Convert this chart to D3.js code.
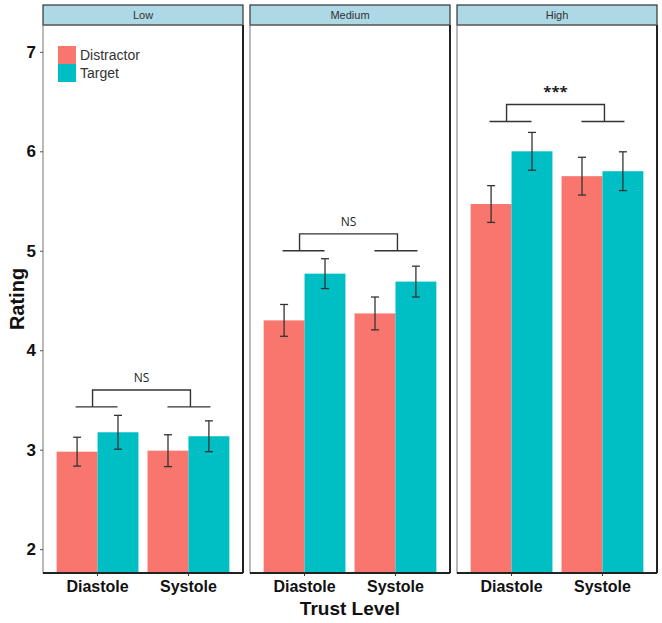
<!DOCTYPE html>
<html>
<head>
<meta charset="utf-8">
<script src="https://cdn.jsdelivr.net/npm/d3@7"></script>
<style>
  body { margin: 0; background: #fff; }
  svg { display: block; font-family: "Liberation Sans", Arial, sans-serif; }
</style>
</head>
<body>
<svg id="chart" width="662" height="623"></svg>
<script>
'use strict';

// data, order per level: Diastole, Systole
const levels = ['Low', 'Medium', 'High'];
const phases = ['Diastole', 'Systole'];
const groups = ['Distractor', 'Target'];

const distractorMean = [2.98, 2.99, 4.30, 4.37, 5.47, 5.75];
const targetMean = [3.175, 3.135, 4.77, 4.69, 6.00, 5.80];
const distractorSE = [0.145, 0.16, 0.16, 0.165, 0.185, 0.19];
const targetSE = [0.17, 0.155, 0.15, 0.155, 0.19, 0.195];

const bracketLow = [3.43, 5.00, 6.30];
const sigLabels = ['NS', 'NS', '***'];
const yTicks = [2, 3, 4, 5, 6, 7];

const colors = { Distractor: '#F8766D', Target: '#00BFC4' };

const svg = d3.select('#chart');

const panelW = 200;
const panelLeft = [43, 250, 457];
const stripTop = 5, stripH = 20;
const plotTop = stripTop + stripH, plotBottom = 573;

const y = d3.scaleLinear().domain([1.76, 7.27]).range([plotBottom, plotTop]);
const x = d3.scaleBand().domain(phases).range([0, panelW])
    .paddingInner(0.1).paddingOuter(0.15);
const xg = d3.scaleBand().domain(groups).range([0, x.bandwidth()]);

svg.append('defs').selectAll('clipPath')
    .data(levels)
    .enter()
    .append('clipPath')
    .attr('id', function(d, i) {return 'clip' + i;})
    .append('rect')
    .attr('x', 0).attr('y', plotTop)
    .attr('width', panelW).attr('height', plotBottom - plotTop);

levels.forEach(function(level, li) {
    const g = svg.append('g').attr('transform', 'translate(' + panelLeft[li] + ',0)');

    // strip
    g.append('rect')
        .attr('x', 0).attr('y', stripTop)
        .attr('width', panelW).attr('height', stripH)
        .style('fill', '#ADD8E6')
        .style('stroke', '#333').style('stroke-width', 1.2);
    g.append('text')
        .attr('x', panelW / 2).attr('y', stripTop + stripH / 2 + 4)
        .attr('text-anchor', 'middle')
        .style('font-size', '11px').style('fill', '#333')
        .text(level);

    const rows = [];
    phases.forEach(function(ph, pi) {
        const k = li * 2 + pi;
        rows.push({ phase: ph, group: 'Distractor', mean: distractorMean[k], se: distractorSE[k] });
        rows.push({ phase: ph, group: 'Target', mean: targetMean[k], se: targetSE[k] });
    });

    const plot = g.append('g').attr('clip-path', 'url(#clip' + li + ')');

    // bars
    plot.selectAll('rect.bar')
        .data(rows)
        .enter()
        .append('rect')
        .attr('class', 'bar')
        .attr('x', function(d) {return x(d.phase) + xg(d.group);})
        .attr('width', xg.bandwidth())
        .attr('y', function(d) {return y(d.mean);})
        .attr('height', function(d) {return plotBottom - y(d.mean);})
        .style('fill', function(d) {return colors[d.group];});

    // error bars
    const cap = 4;
    const cx = function(d) {return x(d.phase) + xg(d.group) + xg.bandwidth() / 2;};
    const eb = plot.selectAll('g.err')
        .data(rows)
        .enter()
        .append('g')
        .attr('class', 'err')
        .style('stroke', '#333').style('stroke-width', 1.3);
    eb.append('line')
        .attr('x1', cx).attr('x2', cx)
        .attr('y1', function(d) {return y(d.mean + d.se);})
        .attr('y2', function(d) {return y(d.mean - d.se);});
    eb.append('line')
        .attr('x1', function(d) {return cx(d) - cap;})
        .attr('x2', function(d) {return cx(d) + cap;})
        .attr('y1', function(d) {return y(d.mean + d.se);})
        .attr('y2', function(d) {return y(d.mean + d.se);});
    eb.append('line')
        .attr('x1', function(d) {return cx(d) - cap;})
        .attr('x2', function(d) {return cx(d) + cap;})
        .attr('y1', function(d) {return y(d.mean - d.se);})
        .attr('y2', function(d) {return y(d.mean - d.se);});

    // significance bracket
    const yl = y(bracketLow[li]), yu = y(bracketLow[li] + 0.17);
    const c1 = x('Diastole') + x.bandwidth() / 2;
    const c2 = x('Systole') + x.bandwidth() / 2;
    const v1 = c1 - 5, v2 = c2 + 2;
    const br = g.append('g').style('stroke', '#333').style('stroke-width', 1.4).style('fill', 'none');
    br.append('line').attr('x1', c1 - 22).attr('x2', c1 + 20).attr('y1', yl).attr('y2', yl);
    br.append('line').attr('x1', c2 - 21).attr('x2', c2 + 22).attr('y1', yl).attr('y2', yl);
    br.append('path')
        .attr('d', 'M' + v1 + ',' + yl + 'V' + yu + 'H' + v2 + 'V' + yl);
    g.append('text')
        .attr('x', (v1 + v2) / 2)
        .attr('y', yu - 8)
        .attr('text-anchor', 'middle')
        .style('font-family', '"Open Sans", sans-serif')
        .style('font-size', sigLabels[li] === '***' ? '15px' : '12px')
        .style('font-weight', sigLabels[li] === '***' ? 'bold' : 'normal')
        .style('fill', '#222')
        .text(sigLabels[li]);

    // panel border
    g.append('rect')
        .attr('x', 0).attr('y', plotTop)
        .attr('width', panelW).attr('height', plotBottom - plotTop)
        .style('fill', 'none')
        .style('stroke', '#777').style('stroke-width', 1);
    g.append('line')
        .attr('x1', panelW).attr('x2', panelW)
        .attr('y1', plotTop).attr('y2', plotBottom)
        .style('stroke', '#222').style('stroke-width', 2);
    g.append('line')
        .attr('x1', 0).attr('x2', panelW)
        .attr('y1', plotBottom).attr('y2', plotBottom)
        .style('stroke', '#222').style('stroke-width', 2);

    // x axis
    const xAxis = g.append('g')
        .attr('transform', 'translate(0,' + plotBottom + ')')
        .call(d3.axisBottom(x).tickSize(3).tickPadding(5));
    xAxis.select('.domain').remove();
    xAxis.selectAll('line').style('stroke', '#333');
    xAxis.selectAll('text')
        .style('font-family', '"Liberation Sans", Arial, sans-serif')
        .style('font-size', '16px').style('font-weight', 'bold')
        .style('fill', '#111');
});

// y axis
const yAxis = svg.append('g')
    .attr('transform', 'translate(' + panelLeft[0] + ',0)')
    .call(d3.axisLeft(y).tickValues(yTicks).tickFormat(d3.format('d')).tickSize(3).tickPadding(4));
yAxis.select('.domain').remove();
yAxis.selectAll('line').style('stroke', '#555');
yAxis.selectAll('text')
    .style('font-family', '"Liberation Sans", Arial, sans-serif')
    .style('font-size', '17px').style('font-weight', 'bold')
    .style('fill', '#111');

// axis titles
svg.append('text')
    .attr('transform', 'translate(24,' + ((plotTop + plotBottom) / 2) + ') rotate(-90)')
    .attr('text-anchor', 'middle')
    .style('font-size', '20px').style('font-weight', 'bold')
    .style('fill', '#111')
    .text('Rating');
svg.append('text')
    .attr('x', (panelLeft[0] + panelLeft[2] + panelW) / 2)
    .attr('y', 615)
    .attr('text-anchor', 'middle')
    .style('font-size', '19px').style('font-weight', 'bold')
    .style('fill', '#111')
    .text('Trust Level');

// legend
const legend = svg.append('g').attr('transform', 'translate(58,46)');
legend.selectAll('rect')
    .data(groups)
    .enter()
    .append('rect')
    .attr('x', 0)
    .attr('y', function(d, i) {return i * 18;})
    .attr('width', 18).attr('height', 18)
    .style('fill', function(d) {return colors[d];});
legend.selectAll('text')
    .data(groups)
    .enter()
    .append('text')
    .attr('x', 22)
    .attr('y', function(d, i) {return i * 18 + 14;})
    .style('font-size', '14px').style('fill', '#333')
    .text(function(d) {return d;});
</script>
</body>
</html>
